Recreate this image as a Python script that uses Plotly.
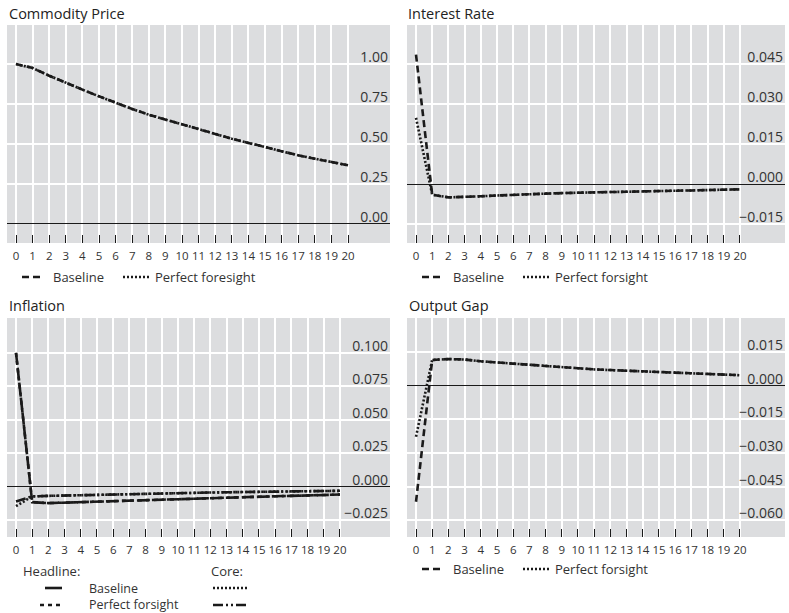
import plotly.graph_objects as go

# ---------------- data ----------------
periods = list(range(21))
x_tick_labels = [str(i) for i in periods]

commodity_baseline = [1.0, 0.975, 0.927, 0.881, 0.840, 0.798, 0.756, 0.719, 0.683, 0.652,
                      0.621, 0.590, 0.563, 0.533, 0.506, 0.479, 0.454, 0.429, 0.408, 0.388, 0.367]
commodity_pf = list(commodity_baseline)

rate_baseline = [0.0485, -0.0040, -0.0050, -0.0049, -0.0046, -0.0043, -0.0040, -0.0038, -0.0036, -0.0034,
                 -0.0032, -0.0031, -0.0030, -0.0029, -0.0027, -0.0026, -0.0025, -0.0024, -0.0023, -0.0021, -0.0020]
rate_pf = [0.0248] + rate_baseline[1:]

infl_head_baseline = [0.100, -0.0115, -0.0122, -0.0118, -0.0114, -0.0110, -0.0106, -0.0102, -0.0098, -0.0094,
                      -0.0090, -0.0087, -0.0083, -0.0080, -0.0077, -0.0074, -0.0071, -0.0068, -0.0065, -0.0062, -0.0058]
infl_head_pf = list(infl_head_baseline)
infl_core_baseline = [-0.0145, -0.0072, -0.0068, -0.0065, -0.0062, -0.0059, -0.0056, -0.0054, -0.0051, -0.0049,
                      -0.0047, -0.0045, -0.0043, -0.0041, -0.0039, -0.0038, -0.0036, -0.0035, -0.0033, -0.0032, -0.0030]
infl_core_pf = [-0.0110] + infl_core_baseline[1:]

gap_baseline = [-0.0518, 0.0114, 0.0118, 0.0116, 0.0108, 0.0103, 0.0097, 0.0091, 0.0085, 0.0080,
                0.0076, 0.0072, 0.0069, 0.0066, 0.0063, 0.0060, 0.0057, 0.0055, 0.0052, 0.0050, 0.0046]
gap_pf = [-0.0228] + gap_baseline[1:]

titles = ["Commodity Price", "Interest Rate", "Inflation", "Output Gap"]
y_ticks = [
    [0.0, 0.25, 0.5, 0.75, 1.0],
    [-0.015, 0.0, 0.015, 0.030, 0.045],
    [-0.025, 0.0, 0.025, 0.050, 0.075, 0.100],
    [-0.060, -0.045, -0.030, -0.015, 0.0, 0.015],
]
y_formats = [".2f", ".3f", ".3f", ".3f"]
y_ranges = [[-0.119, 1.244], [-0.0221, 0.0596], [-0.0375, 0.126], [-0.0675, 0.0301]]
x_ranges = [[-0.542, 22.53], [-0.556, 22.78], [-0.556, 23.09], [-0.556, 22.78]]

# ---------------- layout helpers ----------------
W, H = 789, 613
FONT = "Open Sans"
BG = "#DCDDDF"
INK = "#1a1a1a"
TXT = "#333333"

def fx(px):
    return px / W

def fy(py):
    return 1 - py / H

# plot rectangles in window pixels (left, top, right, bottom)
rects = [(7, 25, 390, 243), (407, 25, 785, 243), (7, 318, 390, 537), (407, 318, 785, 537)]

DASH = "7px,4px"
DOT = "2px,2px"
LONGDASH = "12px,3px"
SHORTDASH = "4px,4px"
LDDOT = "10px,3px,2px,3px,2px,3px"

fig = go.Figure()

def add_line(i, y, dash, width=2.6):
    suffix = "" if i == 0 else str(i + 1)
    fig.add_trace(go.Scatter(x=periods, y=y, mode="lines", showlegend=False,
                             line=dict(color=INK, width=width, dash=dash),
                             xaxis="x" + suffix, yaxis="y" + suffix, hoverinfo="skip"))

add_line(0, commodity_baseline, DASH)
add_line(0, commodity_pf, DOT)
add_line(1, rate_baseline, DASH)
add_line(1, rate_pf, DOT)
add_line(2, infl_head_baseline, LONGDASH)
add_line(2, infl_head_pf, SHORTDASH)
add_line(2, infl_core_baseline, DOT)
add_line(2, infl_core_pf, LDDOT)
add_line(3, gap_baseline, DASH)
add_line(3, gap_pf, DOT)

layout = dict(
    width=W, height=H, margin=dict(l=0, r=0, t=0, b=0),
    paper_bgcolor="white", plot_bgcolor=BG,
    font=dict(family=FONT, color=TXT),
    showlegend=False,
)

for i, (l, t, r, b) in enumerate(rects):
    suffix = "" if i == 0 else str(i + 1)
    layout["xaxis" + suffix] = dict(
        domain=[fx(l), fx(r)], range=x_ranges[i], anchor="y" + suffix,
        tickmode="array", tickvals=periods, ticktext=x_tick_labels,
        ticks="inside", ticklen=8, tickwidth=1, tickcolor=INK,
        ticklabelstandoff=4,
        showgrid=True, gridcolor="white", gridwidth=1.5,
        zeroline=False, showline=False,
        tickfont=dict(size=11.5, color=TXT), fixedrange=True,
    )
    # y axis placed at the right edge of the panel, labels drawn to its left (inside the panel)
    layout["yaxis" + suffix] = dict(
        domain=[fy(b), fy(t)], range=y_ranges[i], anchor="free", position=fx(r),
        side="left", tickmode="array", tickvals=y_ticks[i], tickformat=y_formats[i],
        ticklabelposition="outside top", ticks="", ticklabelstandoff=2, ticklabelshift=3,
        showgrid=True, gridcolor="white", gridwidth=1.5,
        zeroline=True, zerolinecolor=INK, zerolinewidth=1,
        showline=False, tickfont=dict(size=14, color=TXT), fixedrange=True,
    )

annotations = []
shapes = []

title_pos = [(7, 13), (406, 13), (7, 306), (407, 306)]
for (px, py), txt in zip(title_pos, titles):
    annotations.append(dict(text=txt, x=fx(px), y=fy(py), xref="paper", yref="paper",
                            xanchor="left", yanchor="middle", showarrow=False,
                            font=dict(size=14.5, color="#222222", family=FONT)))

def legend_sample(x0, x1, py, dash, width=2.6):
    shapes.append(dict(type="line", xref="paper", yref="paper",
                       x0=fx(x0), x1=fx(x1), y0=fy(py), y1=fy(py),
                       line=dict(color=INK, width=width, dash=dash)))

def legend_text(px, py, txt, size=13):
    annotations.append(dict(text=txt, x=fx(px), y=fy(py), xref="paper", yref="paper",
                            xanchor="left", yanchor="middle", showarrow=False,
                            font=dict(size=size, color=TXT, family=FONT)))

# two-series legends
for (lx, ly, pf_label) in [(7, 277, "Perfect foresight"), (407, 277, "Perfect forsight"), (407, 569, "Perfect forsight")]:
    legend_sample(lx + 15, lx + 37, ly, DASH)
    legend_text(lx + 44, ly, "Baseline")
    legend_sample(lx + 116, lx + 143, ly, DOT)
    legend_text(lx + 146, ly, pf_label)

# inflation legend
legend_text(21, 571, "Headline:")
legend_text(209, 571, "Core:")
legend_sample(45, 62, 588, "solid")
legend_text(87, 588, "Baseline", 12.5)
legend_sample(213, 247, 588, DOT)
legend_sample(40, 62, 605, SHORTDASH)
legend_text(87, 604.5, "Perfect forsight", 12.5)
legend_sample(213, 247, 605, LDDOT)

layout["annotations"] = annotations
layout["shapes"] = shapes

fig.update_layout(**layout)
# remove the default 8px page margin so the figure fills the window exactly
fig.write_html("out.html", config={"displayModeBar": False},
               post_script="document.body.style.margin='0px';")
